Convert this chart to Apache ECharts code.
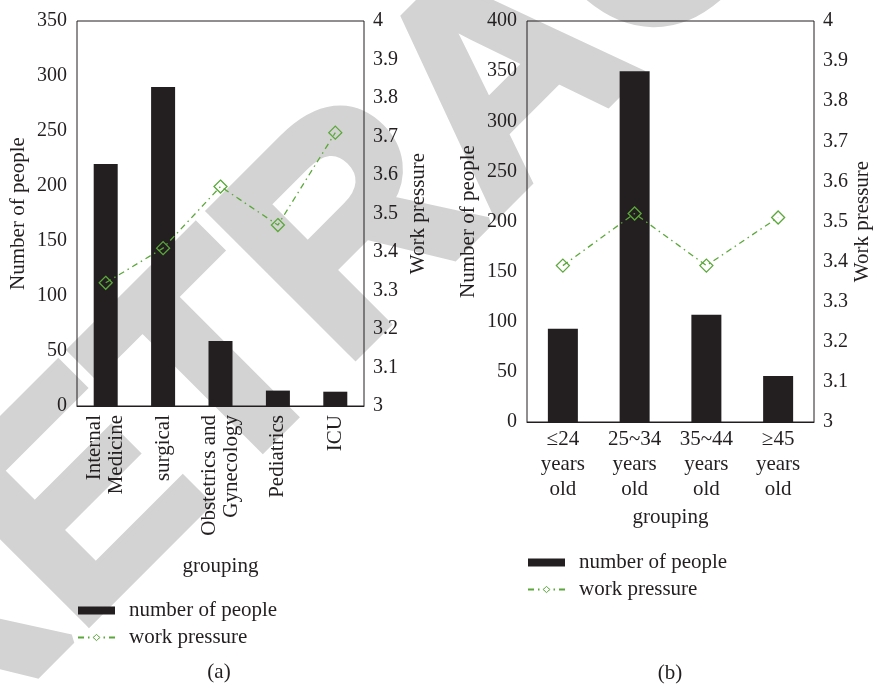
<!DOCTYPE html>
<html>
<head>
<meta charset="utf-8">
<script src="https://cdn.jsdelivr.net/npm/echarts@6/dist/echarts.min.js"></script>
<style>
  html, body { margin: 0; padding: 0; background: #fff; }
  #chart { width: 877px; height: 689px; }
</style>
</head>
<body>
<div id="chart"></div>
<script>
// (a) by department
const groupA = ['Internal\nMedicine', 'surgical', 'Obstetrics and\nGynecology', 'Pediatrics', 'ICU'];
const peopleA = [220, 290, 59, 14, 13];
const pressureA = [3.32, 3.41, 3.57, 3.47, 3.71];

// (b) by age
const groupB = ['≤24\nyears\nold', '25~34\nyears\nold', '35~44\nyears\nold', '≥45\nyears\nold'];
const peopleB = [93, 350, 107, 46];
const pressureB = [3.39, 3.52, 3.39, 3.51];

const ink = '#231f20';
const green = '#5ba83a';
const serif = 'Liberation Serif';

const txt = { color: ink, fontFamily: serif, fontSize: 21 };

function leftAxis(grid, max, gap) {
    return {
        type: 'value', gridIndex: grid, min: 0, max: max, interval: 50,
        name: 'Number of people', nameLocation: 'middle', nameGap: gap, nameRotate: 90,
        nameTextStyle: txt,
        axisLine: { show: false }, axisTick: { show: false }, splitLine: { show: false },
        axisLabel: { color: ink, fontFamily: serif, fontSize: 20, margin: 10 }
    };
}

function rightAxis(grid, gap) {
    return {
        type: 'value', gridIndex: grid, position: 'right', min: 3, max: 4, interval: 0.1,
        name: 'Work pressure', nameLocation: 'middle', nameGap: gap, nameRotate: 90,
        nameTextStyle: txt,
        axisLine: { show: false }, axisTick: { show: false }, splitLine: { show: false },
        axisLabel: { color: ink, fontFamily: serif, fontSize: 20, margin: 9 }
    };
}

function pressureSeries(xi, yi, data) {
    return {
        name: 'work pressure', type: 'line', xAxisIndex: xi, yAxisIndex: yi, data: data,
        symbol: 'diamond', symbolSize: 13,
        lineStyle: { color: green, width: 1.3, type: [6, 4, 1.5, 4] },
        itemStyle: { color: 'rgba(255,255,255,0)', borderColor: green, borderWidth: 1.3 },
        z: 3
    };
}

function legendAt(top, left) {
    return {
        orient: 'vertical', left: left, top: top, padding: 0,
        itemWidth: 37, itemHeight: 8, itemGap: 6,
        data: [
            { name: 'number of people', icon: 'rect' },
            { name: 'work pressure', itemStyle: { color: '#fff', borderColor: green, borderWidth: 1 } }
        ],
        textStyle: { color: ink, fontFamily: serif, fontSize: 21, lineHeight: 21, padding: [0, 0, 0, 9] }
    };
}

const chart = echarts.init(document.getElementById('chart'));

chart.setOption({
    animation: false,
    grid: [
        { left: 77, top: 21, width: 287, height: 385, show: true, borderColor: ink, borderWidth: 1, z: 1 },
        { left: 527, top: 21, width: 287, height: 401, show: true, borderColor: ink, borderWidth: 1, z: 1 }
    ],
    xAxis: [
        {
            type: 'category', gridIndex: 0, data: groupA,
            name: 'grouping', nameLocation: 'middle', nameGap: 150, nameTextStyle: txt,
            axisLine: { lineStyle: { color: ink } }, axisTick: { show: false },
            axisLabel: { interval: 0, rotate: 90, margin: 9, lineHeight: 22, color: ink, fontFamily: serif, fontSize: 21 }
        },
        {
            type: 'category', gridIndex: 1, data: groupB,
            name: 'grouping', nameLocation: 'middle', nameGap: 84, nameTextStyle: txt,
            axisLine: { lineStyle: { color: ink } }, axisTick: { show: false },
            axisLabel: { interval: 0, margin: 5, lineHeight: 25, color: ink, fontFamily: serif, fontSize: 21 }
        }
    ],
    yAxis: [
        leftAxis(0, 350, 48),
        rightAxis(0, 44),
        leftAxis(1, 400, 48),
        rightAxis(1, 37)
    ],
    legend: [legendAt(600, 77), legendAt(552, 527)],
    series: [
        { name: 'number of people', type: 'bar', xAxisIndex: 0, yAxisIndex: 0, data: peopleA, barWidth: 24, itemStyle: { color: ink } },
        pressureSeries(0, 1, pressureA),
        { name: 'number of people', type: 'bar', xAxisIndex: 1, yAxisIndex: 2, data: peopleB, barWidth: 30, itemStyle: { color: ink } },
        pressureSeries(1, 3, pressureB)
    ],
    graphic: [
        {
            // watermark drawn behind the charts
            type: 'text', x: 510, y: 85, rotation: Math.PI / 4, z: -10, silent: true,
            style: {
                text: 'RETRACTED', fill: '#d3d3d3', stroke: '#d3d3d3', lineWidth: 10,
                font: 'bold 295px "Liberation Sans"', align: 'center', verticalAlign: 'middle'
            }
        },
        { type: 'text', x: 219, y: 672, style: { text: '(a)', fill: ink, font: '21px "Liberation Serif"', align: 'center', verticalAlign: 'middle' } },
        { type: 'text', x: 670, y: 673, style: { text: '(b)', fill: ink, font: '21px "Liberation Serif"', align: 'center', verticalAlign: 'middle' } }
    ]
});
</script>
</body>
</html>
